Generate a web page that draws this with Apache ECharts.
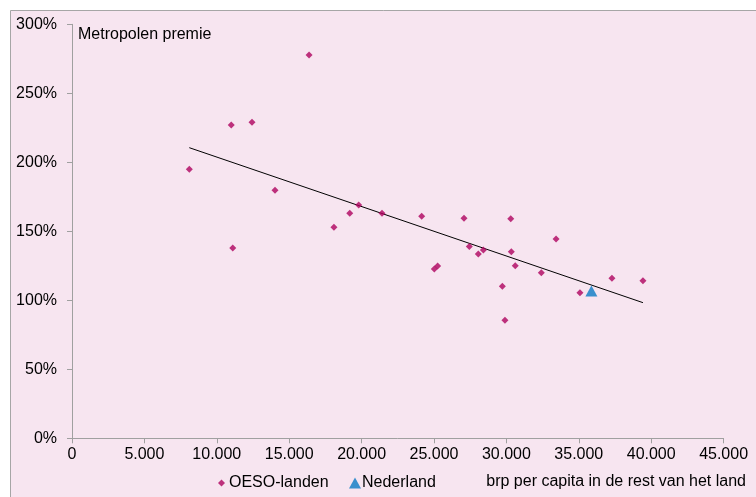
<!DOCTYPE html>
<html>
<head>
<meta charset="utf-8">
<script src="https://cdn.jsdelivr.net/npm/echarts@6/dist/echarts.min.js"></script>
<style>html,body{margin:0;padding:0;background:#fff}#c{width:756px;height:497px}</style>
</head>
<body>
<div id="c"></div>
<script>
// OESO-landen: brp per capita (rest van het land) and metropolen premie (%)
const oesoX = [16370, 11000, 12430, 8100, 14020, 19800, 19180, 18090, 11100, 21410, 24150, 27070, 30300, 33430, 27440, 28060, 28410, 30340, 30610, 25020, 25250, 32410, 29720, 35080, 37290, 39430, 29900];
const oesoY = [277.8, 227, 229, 195, 179.7, 169, 163, 152.9, 137.9, 163, 160.9, 159.4, 159.1, 144.4, 139, 133.6, 136.4, 135.2, 125.1, 122.7, 124.9, 120, 110.1, 105.5, 115.9, 114.2, 85.5];
const nlX = [35870];
const nlY = [106.7];
const trendX = [8100, 39430];
const trendY = [210.6, 98.3];
const xTicks = [0, 5000, 10000, 15000, 20000, 25000, 30000, 35000, 40000, 45000];
const yTicks = [0, 50, 100, 150, 200, 250, 300];

const font = 'Liberation Sans, Arial, sans-serif';
const fs = 16;
const chart = echarts.init(document.getElementById('c'), null, {renderer: 'canvas'});
const zip = (a, b) => a.map((v, i) => [v, b[i]]);
const fmtX = v => v === 0 ? '0' : String(v).replace(/\B(?=(\d{3})+(?!\d))/g, '.');

chart.setOption({
  backgroundColor: '#ffffff',
  animation: false,
  graphic: [{
    type: 'rect', z: -10, silent: true,
    shape: {x: 10.5, y: 10.5, width: 800, height: 600},
    style: {fill: '#F7E5F0', stroke: '#A6A6A6', lineWidth: 1}
  }],
  title: [
    {text: 'Metropolen premie', left: 73, top: 22, padding: 5,
     textStyle: {fontFamily: font, fontSize: fs, fontWeight: 'normal', color: '#000'}},
    {text: 'brp per capita in de rest van het land', right: 5, top: 469,
     textStyle: {fontFamily: font, fontSize: fs, fontWeight: 'normal', color: '#000'}}
  ],
  legend: [
    {data: [{name: 'OESO-landen', icon: 'diamond'}], left: 213, top: 470,
     itemWidth: 7, itemHeight: 7, itemGap: 4,
     textStyle: {fontFamily: font, fontSize: fs, color: '#000', padding: [0, 0, 0, -1]}},
    {data: [{name: 'Nederland', icon: 'triangle'}], left: 344, top: 470,
     itemWidth: 12, itemHeight: 11,
     textStyle: {fontFamily: font, fontSize: fs, color: '#000', padding: [0, 0, 0, -4]}}
  ],
  grid: {left: 72, right: 32.4, top: 24.3, bottom: 58.7, containLabel: false},
  xAxis: {
    type: 'value', min: 0, max: 45000, interval: 5000,
    axisLine: {show: true, lineStyle: {color: '#A0A0A0', width: 1}},
    axisTick: {show: true, length: 5, lineStyle: {color: '#A0A0A0'}},
    splitLine: {show: false},
    axisLabel: {formatter: fmtX, fontFamily: font, fontSize: fs, color: '#000', margin: 8}
  },
  yAxis: {
    type: 'value', min: 0, max: 300, interval: 50,
    axisLine: {show: true, lineStyle: {color: '#A0A0A0', width: 1}},
    axisTick: {show: true, length: 5, lineStyle: {color: '#A0A0A0'}},
    splitLine: {show: false},
    axisLabel: {formatter: v => v + '%', fontFamily: font, fontSize: fs, color: '#000', margin: 15}
  },
  series: [
    {name: 'trend', type: 'line', data: zip(trendX, trendY), symbol: 'none',
     lineStyle: {color: '#000', width: 1}, z: 1, silent: true},
    {name: 'OESO-landen', type: 'scatter', data: zip(oesoX, oesoY), symbol: 'diamond',
     symbolSize: 7, itemStyle: {color: '#AE035F'}, z: 3},
    {name: 'Nederland', type: 'scatter', data: zip(nlX, nlY), symbol: 'triangle',
     symbolSize: [12, 11], itemStyle: {color: '#0A7BC4'}, z: 4}
  ]
});
</script>
</body>
</html>
